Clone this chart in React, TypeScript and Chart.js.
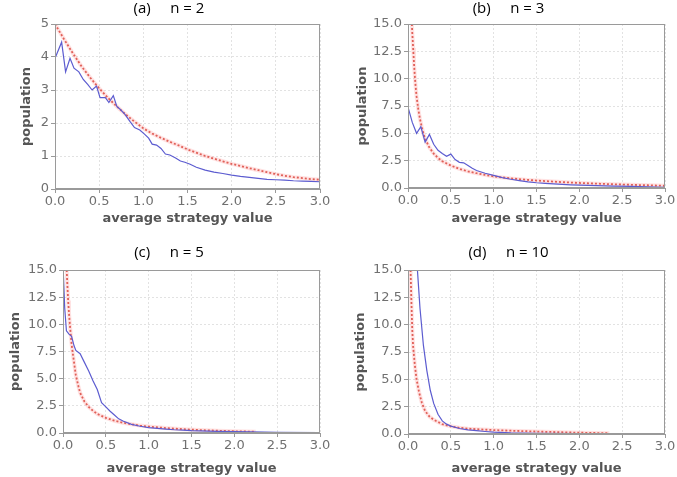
import React, { useEffect, useRef } from "react";
import { Chart, registerables } from "chart.js";

Chart.register(...registerables);

// ---------- data ----------
const X_TICKS = [0, 0.5, 1, 1.5, 2, 2.5, 3];

// (a) n = 2
const A_BLUE_X = [0, 0.075, 0.12, 0.17, 0.215, 0.27, 0.32, 0.37, 0.42, 0.47, 0.51, 0.57, 0.61, 0.66, 0.7, 0.74, 0.79, 0.85, 0.9, 0.96, 1.01, 1.06, 1.1, 1.15, 1.2, 1.25, 1.3, 1.36, 1.42, 1.47, 1.53, 1.6, 1.7, 1.8, 1.9, 2.0, 2.1, 2.2, 2.3, 2.4, 2.5, 2.6, 2.7, 2.8, 2.9, 3.0];
const A_BLUE_Y = [3.96, 4.45, 3.55, 3.96, 3.66, 3.55, 3.32, 3.17, 3.0, 3.12, 2.77, 2.77, 2.62, 2.83, 2.5, 2.41, 2.27, 2.04, 1.86, 1.79, 1.67, 1.54, 1.36, 1.33, 1.23, 1.06, 1.03, 0.95, 0.85, 0.81, 0.75, 0.66, 0.57, 0.51, 0.47, 0.42, 0.38, 0.35, 0.32, 0.29, 0.28, 0.27, 0.25, 0.24, 0.23, 0.22];
const A_RED_X = [0, 0.1, 0.2, 0.3, 0.4, 0.5, 0.6, 0.7, 0.8, 0.9, 1.0, 1.1, 1.2, 1.3, 1.4, 1.5, 1.6, 1.7, 1.8, 1.9, 2.0, 2.1, 2.2, 2.3, 2.4, 2.5, 2.6, 2.7, 2.8, 2.9, 3.0];
const A_RED_Y = [5.0, 4.55, 4.12, 3.72, 3.37, 3.05, 2.76, 2.5, 2.26, 2.04, 1.84, 1.68, 1.55, 1.43, 1.32, 1.2, 1.1, 1.0, 0.92, 0.84, 0.76, 0.7, 0.63, 0.57, 0.51, 0.45, 0.4, 0.36, 0.33, 0.3, 0.28];

// (b) n = 3
const B_BLUE_X = [0, 0.05, 0.1, 0.15, 0.2, 0.25, 0.3, 0.35, 0.4, 0.45, 0.5, 0.55, 0.6, 0.65, 0.7, 0.75, 0.8, 0.9, 1.0, 1.1, 1.2, 1.3, 1.4, 1.5, 1.6, 1.7, 1.8, 1.9, 2.0, 2.2, 2.4, 2.6, 2.8, 3.0];
const B_BLUE_Y = [7.4, 6.0, 5.0, 5.6, 4.2, 4.9, 4.0, 3.45, 3.15, 2.9, 3.1, 2.6, 2.35, 2.3, 2.05, 1.8, 1.6, 1.35, 1.15, 0.95, 0.8, 0.68, 0.56, 0.48, 0.42, 0.37, 0.33, 0.29, 0.26, 0.22, 0.18, 0.14, 0.1, 0.07];
const B_RED_X = [0.045, 0.05, 0.06, 0.07, 0.08, 0.09, 0.1, 0.12, 0.14, 0.16, 0.18, 0.2, 0.25, 0.3, 0.35, 0.4, 0.5, 0.6, 0.7, 0.8, 0.9, 1.0, 1.2, 1.4, 1.6, 1.8, 2.0, 2.2, 2.4, 2.6, 2.8, 3.0];
const B_RED_Y = [15.0, 14.2, 12.8, 11.4, 10.2, 9.2, 8.4, 7.2, 6.3, 5.6, 5.0, 4.5, 3.7, 3.15, 2.75, 2.45, 2.05, 1.75, 1.52, 1.35, 1.2, 1.06, 0.88, 0.74, 0.63, 0.54, 0.46, 0.4, 0.34, 0.29, 0.25, 0.2];

// (c) n = 5
const C_BLUE_X = [0.0, 0.02, 0.04, 0.07, 0.1, 0.13, 0.15, 0.2, 0.25, 0.3, 0.35, 0.4, 0.45, 0.5, 0.55, 0.6, 0.65, 0.7, 0.8, 0.9, 1.0, 1.1, 1.2, 1.3, 1.4, 1.5, 1.6, 1.8, 2.0, 2.2, 2.5, 3.0];
const C_BLUE_Y = [15.5, 11.5, 9.4, 9.1, 8.9, 8.0, 7.6, 7.3, 6.5, 5.7, 4.8, 4.0, 2.8, 2.4, 2.0, 1.65, 1.3, 1.1, 0.8, 0.62, 0.5, 0.43, 0.36, 0.3, 0.26, 0.22, 0.2, 0.15, 0.12, 0.1, 0.07, 0.04];
const C_RED_X = [0.043, 0.05, 0.06, 0.07, 0.08, 0.1, 0.12, 0.15, 0.18, 0.2, 0.25, 0.3, 0.35, 0.4, 0.5, 0.6, 0.7, 0.8, 0.9, 1.0, 1.2, 1.4, 1.6, 1.8, 2.0, 2.25];
const C_RED_Y = [15.0, 13.8, 12.2, 11.0, 10.0, 8.2, 7.0, 5.3, 4.3, 3.7, 2.9, 2.4, 2.05, 1.75, 1.4, 1.13, 0.95, 0.8, 0.68, 0.59, 0.45, 0.35, 0.27, 0.21, 0.16, 0.12];

// (d) n = 10
const D_BLUE_X = [0.11, 0.14, 0.18, 0.22, 0.26, 0.3, 0.35, 0.4, 0.45, 0.5, 0.6, 0.7, 0.8, 0.9, 1.0, 1.2, 1.5, 2.0, 2.5, 3.0];
const D_BLUE_Y = [15.0, 11.5, 8.1, 5.8, 4.0, 2.8, 1.8, 1.2, 0.9, 0.72, 0.5, 0.38, 0.3, 0.23, 0.17, 0.1, 0.06, 0.03, 0.02, 0.01];
const D_RED_X = [0.03, 0.04, 0.05, 0.06, 0.08, 0.1, 0.13, 0.16, 0.2, 0.25, 0.3, 0.4, 0.5, 0.6, 0.7, 0.8, 1.0, 1.2, 1.4, 1.6, 1.8, 2.0, 2.2, 2.35];
const D_RED_Y = [15.0, 12.0, 9.5, 8.0, 6.3, 5.0, 3.8, 2.9, 2.1, 1.6, 1.3, 0.9, 0.7, 0.57, 0.49, 0.44, 0.36, 0.3, 0.25, 0.2, 0.16, 0.12, 0.09, 0.07];

const TITLES = ["(a)     n = 2", "(b)     n = 3", "(c)     n = 5", "(d)     n = 10"];
const Y_MAX = [5, 15, 15, 15];
const Y_STEP = [1, 2.5, 2.5, 2.5];
const Y_DECIMALS = [0, 1, 1, 1];
const X_LABEL = "average strategy value";
const Y_LABEL = "population";

// ---------- layout / style ----------
type Layout = {
  left: number; top: number; w: number; h: number;
  yW: number; rW: number; xH: number;
  tPT: number; tPB: number; yTP: number; xTPB: number;
};
const LAYOUTS: Layout[] = [
  { left: 0, top: 0, w: 338, h: 236, yW: 55, rW: 18, xH: 47, tPT: 0, tPB: 6, yTP: 19, xTPB: 10 },
  { left: 340, top: 0, w: 337, h: 236, yW: 68, rW: 12, xH: 48, tPT: 0, tPB: 6, yTP: 15, xTPB: 10 },
  { left: 0, top: 238, w: 338, h: 239, yW: 63, rW: 18, xH: 44, tPT: 6, tPB: 8, yTP: 8, xTPB: 1 },
  { left: 340, top: 238, w: 337, h: 239, yW: 68, rW: 12, xH: 43, tPT: 6, tPB: 8, yTP: 13, xTPB: 1 },
];

const SERIES = [
  [A_BLUE_X, A_BLUE_Y, A_RED_X, A_RED_Y],
  [B_BLUE_X, B_BLUE_Y, B_RED_X, B_RED_Y],
  [C_BLUE_X, C_BLUE_Y, C_RED_X, C_RED_Y],
  [D_BLUE_X, D_BLUE_Y, D_RED_X, D_RED_Y],
];

const pts = (xs: number[], ys: number[]) => xs.map((x, i) => ({ x, y: ys[i] }));

const boxPlugin = {
  id: "plotBox",
  afterDatasetsDraw(chart: any) {
    const { ctx, chartArea } = chart;
    const l = Math.round(chartArea.left) + 0.5;
    const t = Math.round(chartArea.top) + 0.5;
    const r = Math.round(chartArea.right) - 0.5;
    const b = Math.round(chartArea.bottom) - 0.5;
    ctx.save();
    ctx.strokeStyle = "#9a9a9a";
    ctx.lineWidth = 1;
    ctx.strokeRect(l, t, r - l, b - t);
    ctx.restore();
  },
};

function Panel({ idx }: { idx: number }) {
  const ref = useRef<HTMLCanvasElement>(null);
  const L = LAYOUTS[idx];
  useEffect(() => {
    const [bx, by, rx, ry] = SERIES[idx];
    const tickFont = { family: "DejaVu Sans", size: 13 };
    const titleFont = { family: "DejaVu Sans", size: 13, weight: "bold" as const };
    const chart = new Chart(ref.current as HTMLCanvasElement, {
      type: "line",
      data: {
        datasets: [
          {
            data: pts(bx, by),
            borderColor: "#5c5cd0",
            borderWidth: 1.2,
            pointRadius: 0,
            tension: 0,
            order: 0,
          },
          {
            data: pts(rx, ry),
            borderColor: "#e06058",
            borderWidth: 1.8,
            borderDash: [2, 2],
            pointRadius: 0,
            tension: 0,
            order: 1,
          },
          {
            data: pts(rx, ry),
            borderColor: "rgba(255,150,150,0.28)",
            borderWidth: 4,
            pointRadius: 0,
            tension: 0,
            order: 2,
          },
        ],
      },
      options: {
        responsive: false,
        animation: false,
        events: [],
        layout: { padding: 0 },
        plugins: {
          legend: { display: false },
          tooltip: { enabled: false },
          title: {
            display: true,
            text: TITLES[idx],
            color: "#000",
            font: { family: "Open Sans", size: 15, weight: "normal" },
            padding: { top: L.tPT, bottom: L.tPB },
          },
        },
        scales: {
          x: {
            type: "linear",
            min: 0,
            max: 3,
            afterBuildTicks: (s: any) => {
              s.ticks = X_TICKS.map((v) => ({ value: v }));
            },
            afterFit: (s: any) => {
              s.height = L.xH;
            },
            ticks: {
              color: "#707070",
              font: tickFont,
              padding: 1,
              maxRotation: 0,
              autoSkip: false,
              callback: (v: any) => Number(v).toFixed(1),
            },
            grid: {
              color: "#e2e2e2",
              tickColor: "#9a9a9a",
              tickLength: 4,
              tickBorderDash: [],
            },
            border: { display: true, color: "#9a9a9a", dash: [2, 2] },
            title: {
              display: true,
              text: X_LABEL,
              color: "#555555",
              font: titleFont,
              padding: { top: 0, bottom: L.xTPB },
            },
          },
          y: {
            type: "linear",
            min: 0,
            max: Y_MAX[idx],
            afterFit: (s: any) => {
              s.width = L.yW;
            },
            ticks: {
              stepSize: Y_STEP[idx],
              color: "#707070",
              font: tickFont,
              padding: 2,
              autoSkip: false,
              callback: (v: any) => Number(v).toFixed(Y_DECIMALS[idx]),
            },
            grid: {
              color: "#e2e2e2",
              tickColor: "#9a9a9a",
              tickLength: 4,
              tickBorderDash: [],
            },
            border: { display: true, color: "#9a9a9a", dash: [2, 2] },
            title: {
              display: true,
              text: Y_LABEL,
              color: "#555555",
              font: titleFont,
              padding: { top: L.yTP, bottom: 0 },
            },
          },
          yRight: {
            type: "linear",
            position: "right",
            display: true,
            afterFit: (s: any) => {
              s.width = L.rW;
            },
            ticks: { display: false },
            grid: { display: false, drawTicks: false },
            border: { display: false },
            title: { display: false },
          },
        },
      },
      plugins: [boxPlugin],
    } as any);
    return () => chart.destroy();
  }, [idx]);
  return (
    <div style={{ position: "absolute", left: L.left, top: L.top, width: L.w, height: L.h }}>
      <canvas ref={ref} width={L.w} height={L.h} style={{ width: L.w, height: L.h, display: "block" }} />
    </div>
  );
}

export default function App() {
  return (
    <div style={{ position: "fixed", left: 0, top: 0, width: 677, height: 477, background: "#fff" }}>
      {[0, 1, 2, 3].map((i) => (
        <Panel key={i} idx={i} />
      ))}
    </div>
  );
}
